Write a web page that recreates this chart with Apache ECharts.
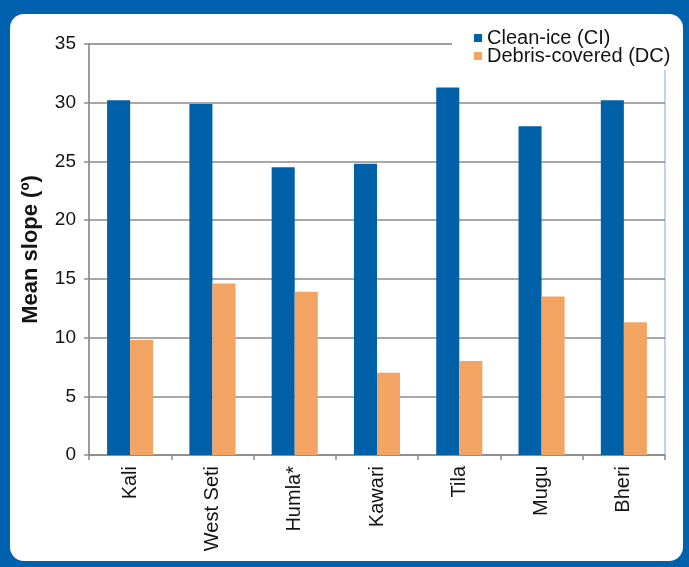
<!DOCTYPE html>
<html>
<head>
<meta charset="utf-8">
<script src="https://cdn.jsdelivr.net/npm/echarts@6/dist/echarts.min.js"></script>
<style>
  html, body { margin: 0; padding: 0; background: #0062ae; }
  #panel { position: absolute; left: 10px; top: 14px; width: 673px; height: 547px; background: #fff; border-radius: 14px; }
  #chart { position: absolute; left: 0; top: 0; width: 689px; height: 567px; }
</style>
</head>
<body>
<div id="panel"></div>
<div id="chart"></div>
<script>
// Glacier regions (western Nepal) and their mean surface slope in degrees
const regions = ['Kali', 'West Seti', 'Humla*', 'Kawari', 'Tila', 'Mugu', 'Bheri'];
const cleanIce = [30.2, 29.9, 24.5, 24.8, 31.3, 28.0, 30.2];
const debrisCovered = [9.8, 14.6, 13.9, 7.0, 8.0, 13.5, 11.3];
const seriesNames = ['Clean-ice (CI)', 'Debris-covered (DC)'];
const yTicks = { min: 0, max: 35, interval: 5 };

const textColor = '#141414';
const gridGray = '#8e8a88';
const font = 'Liberation Sans, Arial, sans-serif';

const chart = echarts.init(document.getElementById('chart'), null, { renderer: 'canvas' });
chart.setOption({
  backgroundColor: 'transparent',
  animation: false,
  textStyle: { fontFamily: font },
  grid: {
    left: 89, right: 24, top: 44, bottom: 112,
    show: true, borderColor: '#a9c8ee', borderWidth: 1.5, backgroundColor: 'transparent'
  },
  legend: {
    data: seriesNames,
    orient: 'vertical',
    left: 452, top: 22,
    padding: [6, 4, 4, 22],
    backgroundColor: '#fff',
    icon: 'rect',
    itemWidth: 8, itemHeight: 8, itemGap: -2, itemTextGap: 1,
    textStyle: { fontSize: 20, color: textColor, fontFamily: font }
  },
  xAxis: {
    type: 'category',
    data: regions,
    axisLine: { lineStyle: { color: gridGray, width: 1.5 } },
    axisTick: { show: true, length: 5, lineStyle: { color: gridGray, width: 1.5 } },
    axisLabel: { rotate: 90, margin: 11, fontSize: 20, color: textColor, fontFamily: font }
  },
  yAxis: {
    type: 'value',
    min: yTicks.min, max: yTicks.max, interval: yTicks.interval,
    name: 'Mean slope (º)',
    nameLocation: 'middle',
    nameGap: 47,
    nameTextStyle: { fontSize: 22, fontWeight: 'bold', color: textColor, fontFamily: font },
    axisLine: { show: true, lineStyle: { color: gridGray, width: 1.5 } },
    axisTick: { show: true, length: 5, lineStyle: { color: gridGray, width: 1.5 } },
    axisLabel: { margin: 13, fontSize: 19, color: textColor, fontFamily: font },
    splitLine: { lineStyle: { color: gridGray, width: 1.5 } }
  },
  series: [
    {
      name: seriesNames[0], type: 'bar', data: cleanIce,
      itemStyle: { color: '#0060a8' },
      barGap: '0%', barCategoryGap: '44%'
    },
    {
      name: seriesNames[1], type: 'bar', data: debrisCovered,
      itemStyle: { color: '#f3a463' },
      barGap: '0%', barCategoryGap: '44%'
    }
  ]
});
</script>
</body>
</html>
